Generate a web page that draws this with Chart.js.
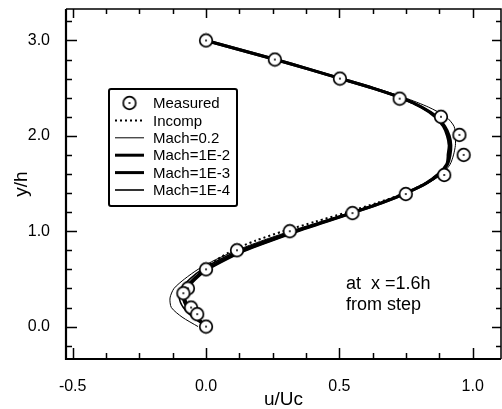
<!DOCTYPE html>
<html>
<head>
<meta charset="utf-8">
<script src="https://cdn.jsdelivr.net/npm/chart.js@4.4.1/dist/chart.umd.min.js"></script>
<style>
  html, body { margin: 0; padding: 0; background: #fff; }
  #wrap { width: 502px; height: 409px; }
</style>
</head>
<body>
<div id="wrap"><canvas id="c" width="502" height="409"></canvas></div>
<script>
/* Velocity profile u/Uc vs y/h at x = 1.6h from step. */

// measured points
const measuredU = [0.0, 0.258, 0.502, 0.726, 0.881, 0.950, 0.966, 0.893, 0.749, 0.549, 0.314, 0.116, 0.0, -0.068, -0.085, -0.056, -0.033, 0.0];
const measuredY = [3.0, 2.80, 2.60, 2.39, 2.20, 2.01, 1.80, 1.59, 1.39, 1.19, 1.00, 0.80, 0.60, 0.40, 0.35, 0.20, 0.13, 0.0];

// computed profiles, sampled at these heights
const yLevels = [0.0, 0.1, 0.2, 0.3, 0.4, 0.5, 0.6, 0.7, 0.8, 0.9, 1.0, 1.1, 1.2, 1.3, 1.4, 1.5,
  1.6, 1.7, 1.8, 1.9, 2.0, 2.1, 2.2, 2.3, 2.4, 2.5, 2.6, 2.7, 2.8, 2.9, 3.0];
const incompU = [0.0, -0.04, -0.07, -0.08, -0.07, -0.045, -0.01, 0.04, 0.10, 0.185, 0.29, 0.41, 0.53, 0.645, 0.745, 0.82,
  0.872, 0.903, 0.913, 0.916, 0.91, 0.893, 0.863, 0.808, 0.728, 0.623, 0.503, 0.384, 0.26, 0.13, 0.0];
const mach02U = [-0.03, -0.09, -0.13, -0.135, -0.12, -0.08, -0.03, 0.035, 0.115, 0.21, 0.315, 0.43, 0.545, 0.655, 0.75, 0.83,
  0.885, 0.915, 0.928, 0.935, 0.935, 0.93, 0.90, 0.835, 0.745, 0.635, 0.51, 0.39, 0.26, 0.13, 0.0];
const mach1e2U = [0.0, -0.035, -0.065, -0.08, -0.07, -0.04, 0.005, 0.07, 0.145, 0.24, 0.34, 0.45, 0.558, 0.662, 0.75, 0.823,
  0.872, 0.902, 0.91, 0.912, 0.905, 0.89, 0.86, 0.808, 0.73, 0.625, 0.505, 0.385, 0.26, 0.13, 0.0];
const mach1e3U = [0.0, -0.04, -0.07, -0.085, -0.075, -0.045, 0.0, 0.065, 0.14, 0.235, 0.335, 0.445, 0.555, 0.66, 0.75, 0.825,
  0.875, 0.905, 0.915, 0.918, 0.912, 0.895, 0.865, 0.81, 0.73, 0.625, 0.505, 0.385, 0.26, 0.13, 0.0];
const mach1e4U = [0.0, -0.05, -0.085, -0.10, -0.09, -0.06, -0.015, 0.05, 0.125, 0.22, 0.325, 0.44, 0.55, 0.658, 0.75, 0.826,
  0.876, 0.904, 0.905, 0.91, 0.905, 0.89, 0.86, 0.81, 0.732, 0.627, 0.506, 0.386, 0.26, 0.13, 0.0];

const xMajor = [-0.5, 0.0, 0.5, 1.0];
const yMajor = [0.0, 1.0, 2.0, 3.0];
const legendLabels = ['Measured', 'Incomp', 'Mach=0.2', 'Mach=1E-2', 'Mach=1E-3', 'Mach=1E-4'];
const noteLines = ['at  x =1.6h', 'from step'];

const FONT = '"Liberation Sans", Arial, sans-serif';

// open circle with a centre dot, used for data and legend
function circleMark() {
  const cv = document.createElement('canvas');
  cv.width = 16; cv.height = 16;
  const g = cv.getContext('2d');
  g.beginPath(); g.arc(8, 8, 6.3, 0, Math.PI * 2);
  g.fillStyle = '#fff'; g.fill();
  g.lineWidth = 1.7; g.strokeStyle = '#000'; g.stroke();
  g.beginPath(); g.arc(8, 8, 1, 0, Math.PI * 2);
  g.fillStyle = '#000'; g.fill();
  return cv;
}
const mark = circleMark();

const pts = (us, ys) => us.map((u, i) => ({ x: u, y: ys[i] }));
const lineSet = (label, us, width, dash, order) => ({
  label, data: pts(us, yLevels), showLine: true, pointRadius: 0,
  borderColor: '#000', borderWidth: width, borderDash: dash, tension: 0.25, order,
});

const datasets = [
  { label: legendLabels[0], data: pts(measuredU, measuredY), showLine: false,
    pointStyle: mark, pointRadius: 8, order: 0 },
  lineSet(legendLabels[1], incompU, 2, [2, 3], 5),
  lineSet(legendLabels[2], mach02U, 1, [], 4),
  lineSet(legendLabels[3], mach1e2U, 3, [], 3),
  lineSet(legendLabels[4], mach1e3U, 3, [], 2),
  lineSet(legendLabels[5], mach1e4U, 1.6, [], 1),
];

// keep the plot box fixed: no extra room for half tick labels
function fixBox(s, size) {
  if (s.isHorizontal()) s.height = size; else s.width = size;
  s.paddingTop = 0; s.paddingBottom = 0; s.paddingLeft = 0; s.paddingRight = 0;
}

// frame, inward ticks, boxed legend and note
const decor = {
  id: 'decor',
  afterDraw(chart) {
    const { ctx, chartArea: a, scales: { x, y } } = chart;
    ctx.save();
    ctx.strokeStyle = '#000';
    ctx.lineCap = 'butt';

    ctx.lineWidth = 1.5;
    ctx.beginPath();
    ctx.moveTo(a.left, a.top); ctx.lineTo(a.right, a.top); ctx.lineTo(a.right, a.bottom);
    ctx.stroke();
    ctx.lineWidth = 2.2;
    ctx.beginPath();
    ctx.moveTo(a.left, a.top); ctx.lineTo(a.left, a.bottom); ctx.lineTo(a.right, a.bottom);
    ctx.stroke();

    ctx.lineWidth = 1.5;
    ctx.beginPath();
    for (let v = -0.5; v <= 1.0001; v += 0.125) {
      const px = Math.round(x.getPixelForValue(v)) + 0.5;
      const major = xMajor.some((m) => Math.abs(m - v) < 1e-6);
      ctx.moveTo(px, a.bottom); ctx.lineTo(px, a.bottom - (major ? 11 : 6));
      ctx.moveTo(px, a.top); ctx.lineTo(px, a.top + (major ? 9 : 5));
    }
    for (let v = -0.2; v <= 3.2001; v += 0.2) {
      const py = Math.round(y.getPixelForValue(v)) + 0.5;
      const major = yMajor.some((m) => Math.abs(m - v) < 1e-6);
      ctx.moveTo(a.left, py); ctx.lineTo(a.left + (major ? 11 : 6), py);
      ctx.moveTo(a.right, py); ctx.lineTo(a.right - (major ? 9 : 5), py);
    }
    ctx.stroke();

    // legend
    const bx = 109, by = 89, bw = 128, bh = 117;
    ctx.lineWidth = 2;
    ctx.beginPath();
    ctx.roundRect(bx, by, bw, bh, 2);
    ctx.fillStyle = '#fff'; ctx.fill(); ctx.stroke();
    ctx.font = '15px ' + FONT;
    ctx.textBaseline = 'middle';
    chart.data.datasets.forEach((ds, i) => {
      const ry = 103 + i * 17.4;
      if (i === 0) {
        ctx.drawImage(mark, 129.5 - 8, ry - 8);
      } else {
        ctx.lineWidth = ds.borderWidth;
        ctx.setLineDash(ds.borderDash);
        ctx.beginPath(); ctx.moveTo(115, ry); ctx.lineTo(144, ry); ctx.stroke();
        ctx.setLineDash([]);
      }
      ctx.fillStyle = '#000';
      ctx.fillText(ds.label, 153, ry + 1);
    });

    ctx.font = '18px ' + FONT;
    ctx.fillText(noteLines[0], 346, 284);
    ctx.fillText(noteLines[1], 346, 305);
    ctx.restore();
  },
};

const tickFont = { family: FONT, size: 16 };

new Chart(document.getElementById('c'), {
  type: 'scatter',
  data: { datasets },
  options: {
    responsive: false,
    animation: false,
    layout: { autoPadding: false, padding: { left: 0, top: 9, right: 1, bottom: 0 } },
    plugins: { legend: { display: false }, tooltip: { enabled: false } },
    scales: {
      x: {
        type: 'linear', min: -0.525, max: 1.106,
        afterBuildTicks: (s) => { s.ticks = xMajor.map((v) => ({ value: v })); },
        afterFit: (s) => fixBox(s, 50),
        grid: { display: false }, border: { display: false },
        ticks: { color: '#000', font: tickFont, padding: 10, maxRotation: 0,
          callback: (v) => Number(v).toFixed(1) },
        title: { display: true, text: 'u/Uc', color: '#000',
          font: { family: FONT, size: 19, lineHeight: 1 }, padding: { top: 0, bottom: 0 } },
      },
      y: {
        type: 'linear', min: -0.34, max: 3.33,
        afterBuildTicks: (s) => { s.ticks = yMajor.map((v) => ({ value: v })); },
        afterFit: (s) => fixBox(s, 66),
        grid: { display: false }, border: { display: false },
        ticks: { color: '#000', font: tickFont, padding: 8,
          callback: (v) => Number(v).toFixed(1) },
        title: { display: true, text: 'y/h', color: '#000',
          font: { family: FONT, size: 19, lineHeight: 1 }, padding: { top: 12, bottom: 0 } },
      },
    },
  },
  plugins: [decor],
});
</script>
</body>
</html>
